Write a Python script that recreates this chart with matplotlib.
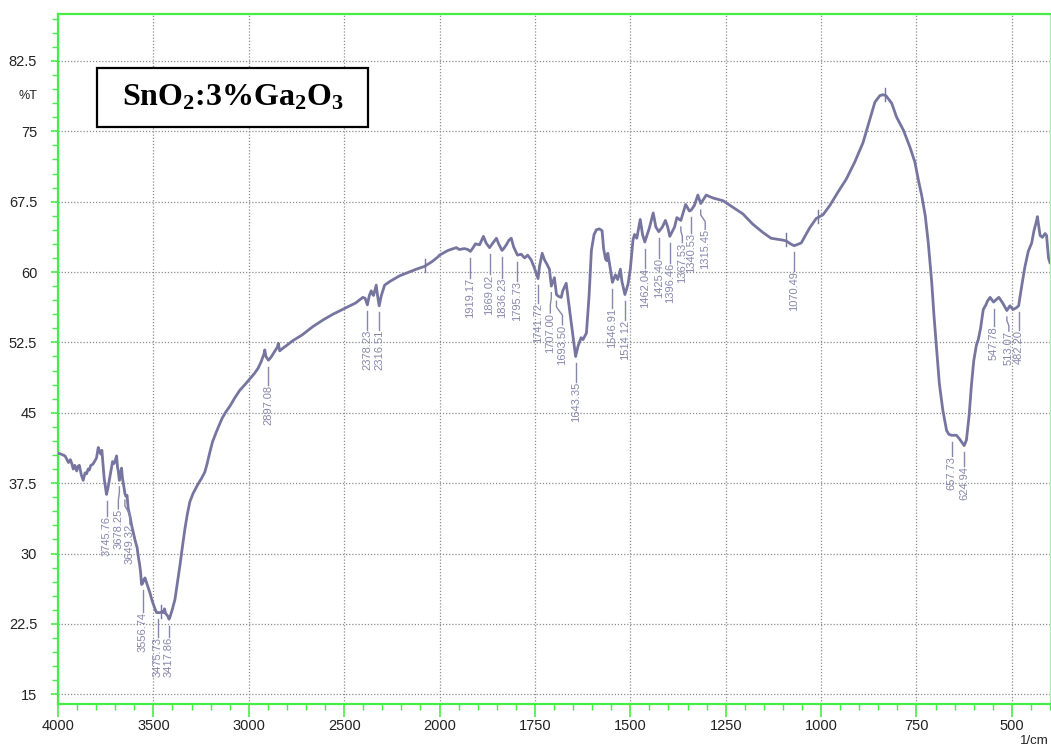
import numpy as np
import matplotlib
matplotlib.use('Agg')
import matplotlib.pyplot as plt
from matplotlib.patches import Rectangle
from matplotlib.ticker import FixedLocator, NullFormatter

plt.rcParams['font.family'] = ['Liberation Sans', 'DejaVu Sans']
plt.rcParams['mathtext.fontset'] = 'custom'
plt.rcParams['mathtext.rm'] = 'Liberation Serif:bold'
plt.rcParams['mathtext.it'] = 'Liberation Serif:bold'
plt.rcParams['mathtext.bf'] = 'Liberation Serif:bold'

# FTIR spectrum, SnO2 doped with 3% Ga2O3
wavenumber = [
    4000, 3985, 3963, 3945, 3935, 3928, 3920, 3912, 3902, 3895, 3888, 3878,
    3868, 3858, 3850, 3842, 3836, 3828, 3818, 3806, 3798, 3789, 3782, 3776,
    3770, 3766, 3758, 3745.76, 3738, 3731, 3722, 3714, 3706, 3700, 3693, 3688,
    3684, 3678.25, 3672, 3667, 3662, 3656, 3649.32, 3644, 3638, 3632, 3622,
    3614, 3605, 3597, 3585, 3580, 3572, 3567, 3562, 3556.74, 3550, 3544, 3536,
    3527, 3518, 3507, 3497, 3490, 3483, 3475.73, 3466, 3455, 3449, 3442, 3436,
    3431, 3424, 3417.86, 3412, 3400, 3387, 3374, 3361, 3348, 3335, 3322, 3309,
    3292, 3274, 3260, 3248, 3230, 3218, 3204, 3190, 3175, 3161, 3140, 3120,
    3099, 3073, 3047, 3020, 2995, 2970, 2951, 2934, 2920, 2916, 2910, 2897.08,
    2888, 2881, 2862, 2850, 2845, 2838, 2820, 2800, 2768, 2720, 2663, 2610,
    2559, 2489, 2440, 2402, 2390, 2378.23, 2368, 2358, 2350, 2346, 2332, 2325,
    2316.51, 2305, 2288, 2260, 2209, 2160, 2122, 2079, 2040, 2009, 2000, 1978,
    1956, 1948, 1935, 1926, 1919.17, 1912, 1906, 1895, 1885, 1878, 1869.02,
    1860, 1851, 1845, 1836.23, 1830, 1825, 1818, 1812, 1806, 1795.73, 1786,
    1777, 1769, 1760, 1752, 1741.72, 1738, 1731, 1725, 1718, 1712, 1707.00,
    1699, 1693.50, 1688, 1681, 1677, 1668, 1664, 1658, 1652, 1643.35, 1637,
    1629, 1624, 1615, 1608, 1602, 1595, 1589, 1581, 1574, 1570, 1565, 1561,
    1559, 1553, 1546.91, 1539, 1533, 1526, 1522, 1514.12, 1506, 1500, 1493,
    1489, 1483, 1474, 1468, 1462.04, 1450, 1440, 1433, 1425.40, 1416, 1408,
    1402, 1396.46, 1384, 1378, 1371, 1367.53, 1355, 1345, 1340.53, 1332, 1323,
    1315.45, 1301, 1284, 1257, 1231, 1205, 1179, 1152, 1131, 1100, 1091, 1080,
    1070.49, 1052, 1030, 1013, 995, 977, 956, 934, 912, 890, 872, 859, 846,
    838, 830, 815, 802, 784, 767, 754, 745, 736, 727, 719, 710, 704, 697, 690,
    681, 671, 665, 657.73, 645, 637, 624.94, 619, 612, 606, 600, 593, 588, 582,
    575, 568, 564, 557, 547.78, 540, 534, 524, 513.07, 505, 497, 488, 482.20,
    475, 466, 457, 448, 442, 435, 433, 426, 420, 413, 409, 404, 400,
]
transmittance = [
    40.7, 40.6, 40.4, 39.7, 40.0, 39.6, 39.0, 39.4, 38.8, 39.3, 39.4, 38.4,
    37.8, 38.6, 38.5, 39.0, 38.9, 39.4, 39.5, 39.9, 40.2, 41.3, 40.9, 40.6,
    41.0, 40.0, 38.0, 36.3, 37.0, 37.8, 38.8, 39.8, 39.6, 39.9, 40.4, 39.2,
    38.8, 37.8, 38.4, 39.1, 38.0, 37.3, 36.4, 36.1, 36.2, 34.8, 33.9,
    33.0, 32.2, 31.5, 30.6, 29.8, 28.8, 28.0, 26.7, 26.8, 27.2, 27.4, 26.9,
    26.3, 25.8, 25.0, 24.4, 24.0, 23.7, 23.7, 23.7, 23.8, 23.7, 24.1, 23.6,
    23.5, 23.3, 23.0, 23.3, 24.1, 25.1, 26.9, 28.7, 30.7, 32.6, 34.2, 35.5,
    36.4, 37.1, 37.6, 38.0, 38.7, 39.6, 40.8, 41.9, 42.7, 43.4, 44.4, 45.1,
    45.7, 46.6, 47.4, 48.0, 48.6, 49.2, 49.75, 50.5, 51.3, 51.7, 51.0, 50.6,
    50.8, 51.0, 51.6, 52.0, 52.4, 51.6, 51.9, 52.2, 52.7, 53.3, 54.2, 54.9,
    55.5, 56.2, 56.7, 57.3, 57.2, 56.5, 57.5, 58.0, 57.6, 57.5, 58.6, 57.5,
    56.4, 57.5, 58.6, 59.0, 59.6, 60.0, 60.3, 60.6, 61.1, 61.6, 61.8, 62.3,
    62.6, 62.4, 62.5, 62.4, 62.2, 62.6, 63.0, 62.9, 63.8, 63.1, 62.6,
    63.1, 63.6, 63.0, 62.3, 62.6, 62.9, 63.4, 63.6, 62.7, 61.8, 61.9,
    61.5, 61.8, 61.3, 60.5, 59.3, 60.6, 62.0, 61.3, 60.8, 60.3, 58.5,
    59.4, 57.6, 57.4, 57.3, 58.0, 58.8, 57.5, 55.6, 53.7, 51.0, 52.1,
    53.0, 52.8, 53.5, 57.5, 62.3, 64.0, 64.5, 64.6, 64.4, 62.5, 61.4, 61.2,
    62.0, 60.5, 58.9, 59.7, 59.2, 60.3, 59.0, 57.6, 58.7, 60.3, 63.4,
    64.0, 63.6, 65.6, 64.0, 63.2, 64.7, 66.3, 64.8, 64.3, 64.8, 65.5,
    64.8, 63.8, 64.8, 65.8, 65.6, 65.5, 67.2, 66.5, 66.6, 67.1, 68.2,
    67.3, 68.2, 67.9, 67.6, 66.9, 66.2, 65.1, 64.2, 63.6, 63.4, 63.3, 63.0,
    62.8, 63.1, 64.7, 65.7, 66.1, 67.1, 68.5, 69.9, 71.7, 73.8, 76.3, 78.1, 78.8,
    78.9, 78.8, 78.0, 76.5, 75.1, 73.3, 71.7, 69.8, 68.1, 66.0, 63.1, 58.9, 55.3, 51.7, 48.1,
    45.3, 43.1, 42.7, 42.6, 42.6, 42.2, 41.5, 42.1, 44.7, 47.9, 50.5, 52.2, 52.8, 54.0,
    56.0, 56.5, 56.9, 57.3, 56.8, 57.1, 57.3, 56.7, 55.9, 56.4, 56.0, 56.2, 56.4,
    58.3, 60.5, 62.2, 63.1, 64.4, 65.5, 65.9, 63.9, 63.7, 64.1, 63.9, 61.5, 61.0,
]

# picked peaks (wavenumbers printed next to the curve)
peak_wn = [3745.76, 3678.25, 3649.32, 3556.74, 3475.73, 3417.86, 2897.08,
           2378.23, 2316.51, 1919.17, 1869.02, 1836.23, 1795.73, 1741.72,
           1707.00, 1693.50, 1643.35, 1546.91, 1514.12, 1462.04, 1425.40,
           1396.46, 1367.53, 1340.53, 1315.45, 1070.49, 657.73, 624.94,
           547.78, 513.07, 482.20]
# unlabelled marks on the curve
mark_wn = [3460, 2078, 1093, 1009, 833]

x_major = [4000, 3500, 3000, 2500, 2000, 1750, 1500, 1250, 1000, 750, 500]
y_major = [15, 22.5, 30, 37.5, 45, 52.5, 60, 67.5, 75, 82.5]

# where each peak label starts (%T) and its sideways nudge in pixels
label_top = [34.0, 34.75, 33.14, 23.82, 21.14, 21.14, 47.96, 53.85, 53.85,
             59.39, 59.74, 59.39, 59.03, 56.71, 55.64, 54.38, 48.32, 56.17,
             54.92, 60.46, 61.53, 61.0, 63.14, 64.21, 64.56, 60.1, 40.37,
             39.3, 54.21, 53.7, 53.85]
label_dx = [0, -1, 5, 0, 0, 0, 0, 0, 0, 0, 0, 0, 0, 0, -1, 6, 0, 0, 0, 0,
            0, 0, 1.5, 0, 4.5, 0, 0, 0, 0, 2, 0]

GREEN = '#44ee44'
CURVE = '#75759f'
LABEL = '#8787ad'


# scale is stretched two-fold below 2000 1/cm
def fwd(x):
    x = np.asarray(x, dtype=float)
    return np.where(x > 2000, 2000 + (x - 2000) / 2, x)


def inv(y):
    y = np.asarray(y, dtype=float)
    return np.where(y > 2000, 2000 + (y - 2000) * 2, y)


fig = plt.figure(figsize=(10.51, 7.49), dpi=100)
ax = fig.add_axes([58 / 1051, 44.7 / 749, 992 / 1051, 690.3 / 749])
ax.set_xscale('function', functions=(fwd, inv))
ax.set_xlim(4000, 400)
ax.set_ylim(13.93, 87.5)

ax.xaxis.set_major_locator(FixedLocator(x_major))
ax.xaxis.set_minor_locator(FixedLocator(list(range(3900, 2000, -100)) + list(range(1950, 399, -50))))
ax.set_xticklabels([str(v) for v in x_major])
ax.xaxis.set_minor_formatter(NullFormatter())
ax.yaxis.set_major_locator(FixedLocator(y_major))
ax.yaxis.set_minor_locator(FixedLocator(np.arange(15, 87.6, 1.5)))
ax.set_yticklabels([f'{v:g}' for v in y_major])

ax.tick_params(axis='both', which='both', direction='out', colors=GREEN,
               labelcolor='#222222', labelsize=10.5)
ax.tick_params(axis='x', which='major', length=9, width=1.2, pad=1.5)
ax.tick_params(axis='x', which='minor', length=4.5, width=1.0)
ax.tick_params(axis='y', which='major', length=5, width=1.2, pad=10)
ax.tick_params(axis='y', which='minor', length=4, width=1.0)

for side in ['left', 'bottom', 'top']:
    ax.spines[side].set_color(GREEN)
    ax.spines[side].set_linewidth(1.6)
ax.spines['right'].set_color('#aaf0aa')
ax.spines['right'].set_linewidth(1.0)

ax.grid(True, which='major', color='#8c8c8c', linestyle=(0, (1, 1.5)), linewidth=0.9)
ax.set_axisbelow(True)

ax.plot(wavenumber, transmittance, color=CURVE, lw=2.0, solid_joinstyle='round', zorder=3)

wn_asc = np.array(wavenumber)[::-1]
t_asc = np.array(transmittance)[::-1]

# short ticks crossing the curve
for w in mark_wn:
    t = np.interp(w, wn_asc, t_asc)
    ax.plot([w, w], [t - 0.6, t + 0.8], color=CURVE, lw=1.0, zorder=3)

# peak labels with connectors
trans = ax.transData
back = trans.inverted()
for w, top, dx in zip(peak_wn, label_top, label_dx):
    t = np.interp(w, wn_asc, t_asc)
    y0 = t - 0.7
    xa, ya = trans.transform((w, y0))
    _, yb = trans.transform((w, top))
    if dx == 0:
        pts = [(xa, ya), (xa, yb)]
    else:
        span = ya - yb
        pts = [(xa, ya), (xa, ya - 0.25 * span), (xa + dx, ya - 0.6 * span), (xa + dx, yb)]
    data = back.transform(pts)
    ax.plot(data[:, 0], data[:, 1], color=LABEL, lw=1.0, zorder=3)
    ax.text(data[-1, 0], top, f'{w:.2f}', rotation=90, ha='center', va='top',
            fontsize=8, color=LABEL, zorder=4)

# sample name box
ax.add_patch(Rectangle((0.0393, 0.8363), 0.2732, 0.0855, transform=ax.transAxes,
                       facecolor='white', edgecolor='black', lw=1.6, zorder=5))
ax.text(0.1759, 0.879, 'SnO$_2$:3%Ga$_2$O$_3$', transform=ax.transAxes,
        ha='center', va='center', fontsize=23, fontweight='bold',
        family='Liberation Serif', zorder=6)

ax.text(-0.021, 0.881, '%T', transform=ax.transAxes, ha='right', va='center',
        fontsize=9, color='#222222')
fig.text(0.998, 1 - 741 / 749, '1/cm', ha='right', va='center', fontsize=9.5,
         color='#222222')

fig.savefig('out.png', dpi=100)
